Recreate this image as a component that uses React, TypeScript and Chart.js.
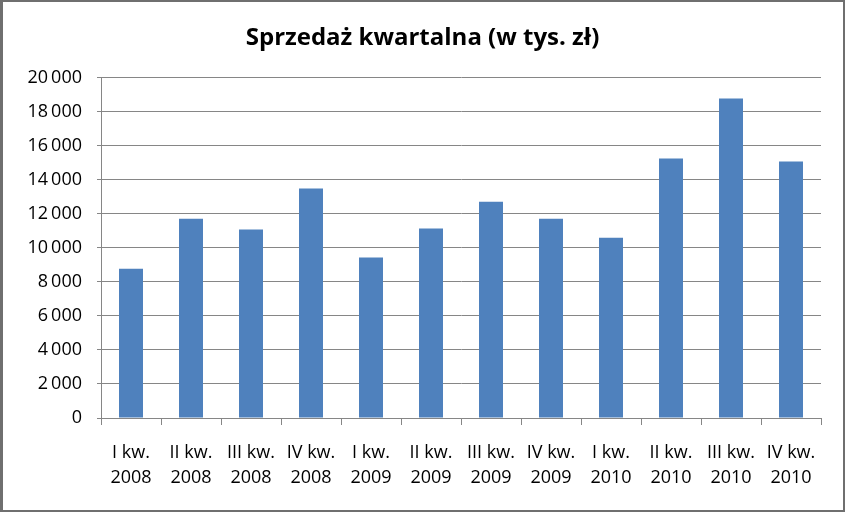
import React, { useEffect, useRef } from "react";
import { Chart, registerables } from "chart.js";

Chart.register(...registerables);

const categories: string[][] = [
  ["I kw.", "2008"], ["II kw.", "2008"], ["III kw.", "2008"], ["IV kw.", "2008"],
  ["I kw.", "2009"], ["II kw.", "2009"], ["III kw.", "2009"], ["IV kw.", "2009"],
  ["I kw.", "2010"], ["II kw.", "2010"], ["III kw.", "2010"], ["IV kw.", "2010"],
];
const sales: number[] = [8780, 11720, 11080, 13490, 9430, 11140, 12720, 11720, 10600, 15250, 18780, 15080];
const titleText = "Sprzedaż kwartalna (w tys. zł)";
const yMin = 0;
const yMax = 20000;
const yStep = 2000;

const FONT = "'Open Sans', 'Noto Sans', sans-serif";

const framePlugin = {
  id: "frame",
  beforeDraw(chart: any) {
    const { ctx, width, height } = chart;
    ctx.save();
    ctx.fillStyle = "#6f6f6f";
    ctx.fillRect(0, 0, width, height);
    ctx.fillStyle = "#ffffff";
    ctx.fillRect(3, 2, width - 5, height - 4);
    ctx.restore();
  },
};

function formatNum(v: number): string {
  const s = String(Math.round(v));
  return s.replace(/\B(?=(\d{3})+(?!\d))/g, "\u2009");
}

export default function App() {
  const ref = useRef<HTMLCanvasElement | null>(null);
  useEffect(() => {
    document.body.style.margin = "0";
    if (!ref.current) return;
    const chart = new Chart(ref.current, {
      type: "bar",
      data: {
        labels: categories,
        datasets: [
          {
            label: "Sprzedaż",
            data: sales,
            backgroundColor: "#4F81BD",
            borderWidth: 0,
            categoryPercentage: 1,
            barPercentage: 0.4,
          },
        ],
      },
      options: {
        animation: false,
        responsive: false,
        maintainAspectRatio: false,
        devicePixelRatio: 1,
        layout: { padding: { left: 24, right: 24, top: 0, bottom: 0 } },
        plugins: {
          legend: { display: false },
          tooltip: { enabled: false },
          title: {
            display: true,
            text: titleText,
            color: "#000000",
            font: { family: FONT, size: 24, weight: "bold", lineHeight: 1.2 },
            padding: { top: 24, bottom: 25 },
          },
        },
        scales: {
          x: {
            afterFit(scale: any) {
              scale.height = 94;
            },
            grid: {
              display: true,
              offset: true,
              drawOnChartArea: false,
              drawTicks: true,
              tickLength: 7,
              color: "#868686",
            },
            border: { display: true, color: "#868686", width: 1 },
            ticks: {
              color: "#000000",
              font: { family: FONT, size: 18, lineHeight: 1.35 },
              padding: 16,
              maxRotation: 0,
              autoSkip: false,
            },
          },
          y: {
            min: yMin,
            max: yMax,
            afterFit(scale: any) {
              scale.width = 77;
            },
            grid: {
              color: "#868686",
              drawTicks: true,
              tickLength: 4,
            },
            border: { display: true, color: "#868686", width: 1 },
            ticks: {
              stepSize: yStep,
              color: "#000000",
              font: { family: FONT, size: 18 },
              padding: 15,
              callback: (v: any) => formatNum(Number(v)),
            },
          },
        },
      },
      plugins: [framePlugin],
    });
    return () => chart.destroy();
  }, []);
  return (
    <div style={{ width: 845, height: 512 }}>
      <canvas ref={ref} width={845} height={512} style={{ display: "block", width: 845, height: 512 }} />
    </div>
  );
}
